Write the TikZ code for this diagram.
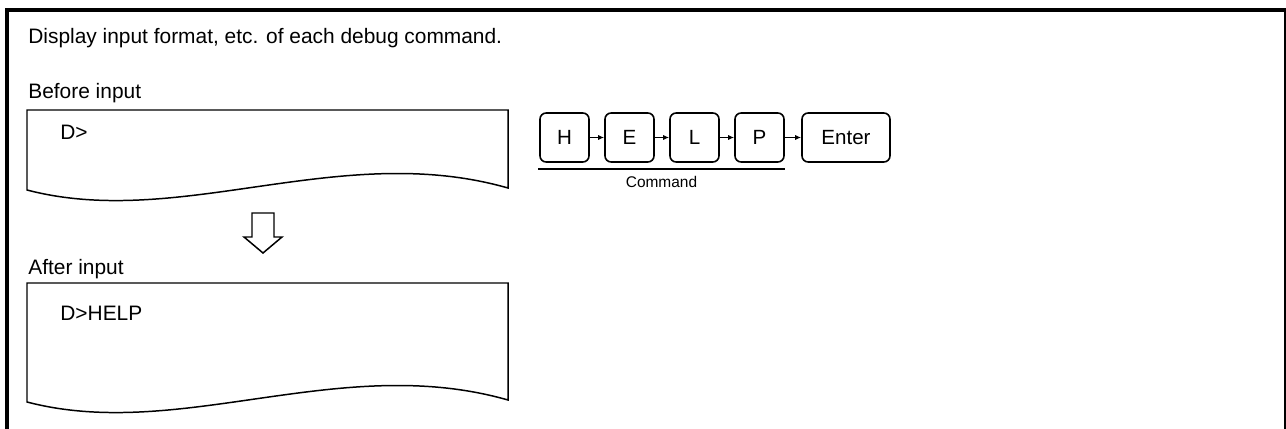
\documentclass[tikz,border=0pt]{standalone}
\usepackage{fontspec}
\setmainfont{Liberation Sans}
\usetikzlibrary{arrows.meta}

\begin{document}
\begin{tikzpicture}[
        x=0.02cm, y=-0.02cm,
        txt/.style={anchor=base west, inner sep=0pt, font=\fontsize{11.9}{14}\selectfont},
        key/.style={rectangle, draw, line width=0.9pt, rounded corners=3.5pt, minimum width=0.98cm, minimum height=0.98cm, inner sep=0pt, font=\fontsize{11.7}{14}\selectfont},
        screen/.style={draw, line width=0.85pt},
        arrow/.style={-{Latex[length=3.5pt, width=3pt]}, line width=0.9pt}
    ]
        \useasboundingbox (0,0) rectangle (1286,429);

        % Frame
        \draw[line width=2pt] (7,429) -- (7,10) -- (1286,10);
        \draw[line width=0.6pt] (1285,10) -- (1285,429);

        \node[txt] (title) at (28,44) {Display input format, etc. of each debug command.};

        % Before input
        \node[txt] (before) at (28,99) {Before input};
        \draw[screen] (27,190) -- (27,110) -- (508,110) -- (508,188) .. controls (340,140) and (180,230) .. cycle;
        \node[txt] (prompt1) at (60,140) {D>};

        % Down arrow
        \draw[line width=0.85pt, fill=white] (252,213) -- (274,213) -- (274,237) -- (282,237) -- (263,253) -- (244,237) -- (252,237) -- cycle;

        % After input
        \node[txt] (after) at (28,275) {After input};
        \draw[screen] (27,402) -- (27,283) -- (508,283) -- (508,400) .. controls (340,352) and (180,442) .. cycle;
        \node[txt] (prompt2) at (60,320) {D>HELP};

        % Key sequence
        \node[key] (h) at (564.5,137.5) {H};
        \node[key] (e) at (629.5,137.5) {E};
        \node[key] (l) at (694.5,137.5) {L};
        \node[key] (p) at (759.5,137.5) {P};
        \node[key, minimum width=1.76cm] (enter) at (846,137.5) {Enter};
        \foreach \a/\b in {h/e, e/l, l/p, p/enter}
            \draw[arrow] (\a) -- (\b);

        % Command underline
        \coordinate (cmdl) at (538,169);
        \coordinate (cmdr) at (785,169);
        \draw[line width=1.2pt] (cmdl) -- (cmdr);
        \node[anchor=base, inner sep=0pt, font=\fontsize{8.8}{10}\selectfont] (cmd) at (661.5,188) {Command};

    \end{tikzpicture}
\end{document}
